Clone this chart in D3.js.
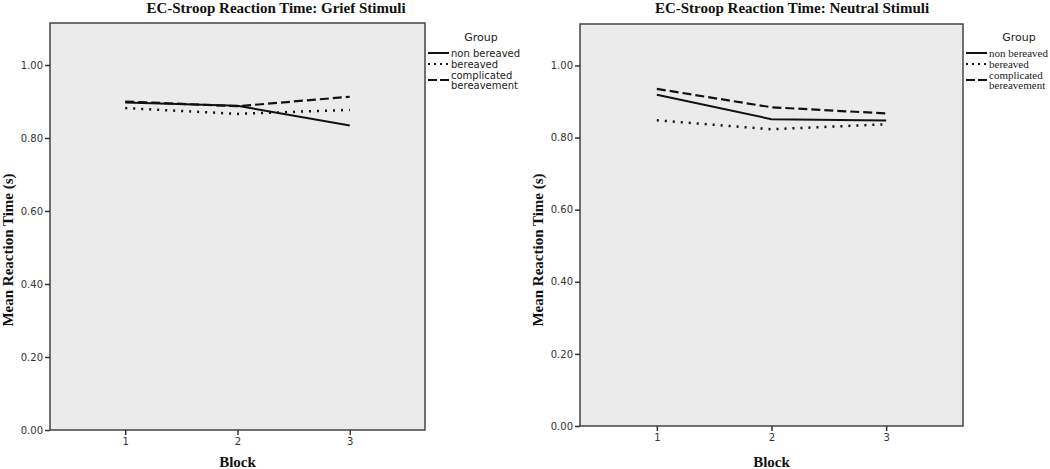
<!DOCTYPE html>
<html>
<head>
<script src="https://d3js.org/d3.v7.min.js"></script>
<style>
  body { margin: 0; background: #fff; }
  .tick text { font-family: "DejaVu Sans", sans-serif; font-size: 10px; fill: #333; }
  .domain { display: none; }
  .tick line { stroke: #333; stroke-width: 1.5px; }
  .title, .axis-title { font-family: "Liberation Serif", serif; font-weight: bold; fill: #111; }
  .line { fill: none; stroke: #111; }
</style>
</head>
<body>
<svg width="1050" height="469"></svg>
<script>
// values
var blocks = [1, 2, 3];
var groups = ["non bereaved", "bereaved", "complicated bereavement"];
var yTicks = [0, 0.2, 0.4, 0.6, 0.8, 1.0];

var griefNonBereaved = [0.897, 0.888, 0.834];
var griefBereaved = [0.882, 0.866, 0.877];
var griefComplicated = [0.900, 0.887, 0.913];

var neutralNonBereaved = [0.919, 0.851, 0.847];
var neutralBereaved = [0.848, 0.823, 0.837];
var neutralComplicated = [0.935, 0.884, 0.867];

var dashes = [null, "2,6", "9,4"];
var widths = [2, 2.5, 2.2];

var svg = d3.select("svg");

var panels = [
    {title: "EC-Stroop Reaction Time: Grief Stimuli", left: 50, right: 425, top: 23, bottom: 430, titleX: 276,
     series: [griefNonBereaved, griefBereaved, griefComplicated], legendFont: "DejaVu Sans", legendSize: 10},
    {title: "EC-Stroop Reaction Time: Neutral Stimuli", left: 580, right: 963, top: 24, bottom: 426, titleX: 792,
     series: [neutralNonBereaved, neutralBereaved, neutralComplicated], legendFont: "Liberation Serif", legendSize: 11}
];

panels.forEach(function (p) {
    var x = d3.scaleLinear().domain([0.33, 3.67]).range([p.left, p.right]);
    var y = d3.scaleLinear().domain([0, 1.115]).range([p.bottom, p.top]);
    var g = svg.append("g");

    g.append("rect")
        .attr("x", p.left).attr("y", p.top)
        .attr("width", p.right - p.left).attr("height", p.bottom - p.top)
        .attr("fill", "#ebebeb").attr("stroke", "#444").attr("stroke-width", 1.5);

    g.append("g")
        .attr("transform", "translate(" + p.left + ",0)")
        .call(d3.axisLeft(y).tickValues(yTicks).tickFormat(d3.format(".2f")).tickSize(5).tickPadding(2));

    g.append("g")
        .attr("transform", "translate(0," + p.bottom + ")")
        .call(d3.axisBottom(x).tickValues(blocks).tickFormat(d3.format("d")).tickSize(5).tickPadding(3));

    g.append("text").attr("class", "title")
        .attr("x", p.titleX).attr("y", 13)
        .attr("text-anchor", "middle").style("font-size", "15px")
        .text(p.title);

    g.append("text").attr("class", "axis-title")
        .attr("x", (p.left + p.right) / 2).attr("y", 467)
        .attr("text-anchor", "middle").style("font-size", "15px")
        .text("Block");

    g.append("text").attr("class", "axis-title")
        .attr("transform", "translate(" + (p.left - 37) + ",250) rotate(-90)")
        .attr("text-anchor", "middle").style("font-size", "15px")
        .text("Mean Reaction Time (s)");

    var line = d3.line()
        .x(function (d, i) { return x(blocks[i]); })
        .y(function (d) { return y(d); });

    p.series.forEach(function (s, k) {
        g.append("path").attr("class", "line")
            .attr("d", line(s))
            .attr("stroke-width", widths[k])
            .attr("stroke-dasharray", dashes[k]);
    });

    // legend
    var lx = p.right + 3;
    g.append("text")
        .attr("x", lx + 53).attr("y", 41)
        .attr("text-anchor", "middle")
        .style("font-family", "DejaVu Sans").style("font-size", "11px").style("fill", "#222")
        .text("Group");

    var rows = [{y: 53, text: ["non bereaved"]}, {y: 64, text: ["bereaved"]}, {y: 75, text: ["complicated", "bereavement"]}];
    var lineY = [53, 64, 80];
    var legDash = [null, "2,4", "9,3"];
    rows.forEach(function (r, k) {
        g.append("line")
            .attr("x1", lx).attr("x2", lx + 21)
            .attr("y1", lineY[k]).attr("y2", lineY[k])
            .attr("stroke", "#111").attr("stroke-width", 2)
            .attr("stroke-dasharray", legDash[k]);
        r.text.forEach(function (t, j) {
            g.append("text")
                .attr("x", lx + 23).attr("y", r.y + 3.5 + j * 10)
                .style("font-family", p.legendFont).style("font-size", p.legendSize + "px").style("fill", "#222")
                .text(t);
        });
    });
});
</script>
</body>
</html>
